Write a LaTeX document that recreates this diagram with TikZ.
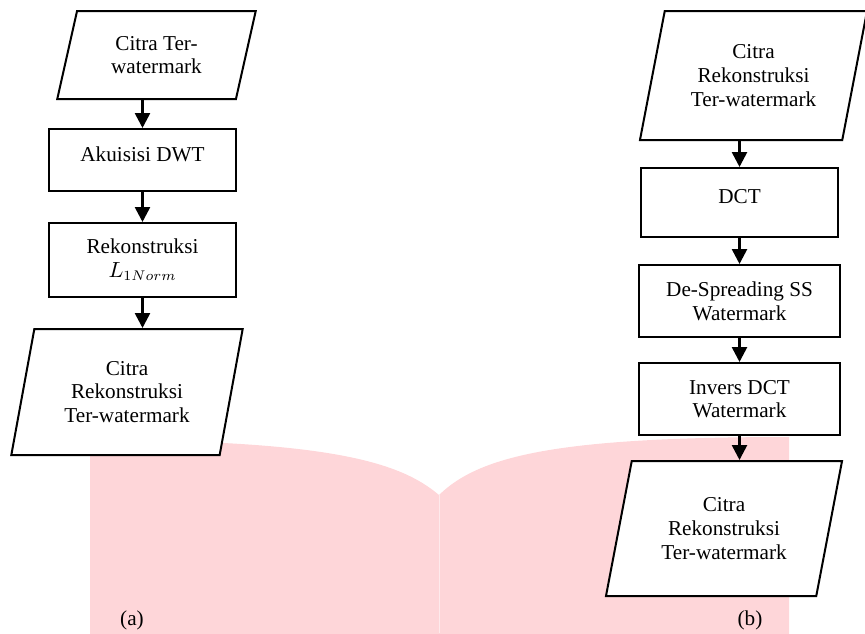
\documentclass[tikz,border=0pt]{standalone}
\usepackage{fontspec}
\setmainfont{Liberation Serif}
\usetikzlibrary{arrows.meta,shapes.geometric}
\definecolor{bookpink}{RGB}{254,214,217}

\begin{document}
\begin{tikzpicture}
        [x=0.5pt,y=-0.5pt,
        txt/.style={font=\fontsize{10.6}{11.8}\selectfont, align=center},
        proc/.style={txt, draw, fill=white, line width=1pt, inner sep=2pt},
        oneline/.style={proc, text depth=6pt},
        io/.style={proc, trapezium, trapezium left angle=75, trapezium right angle=105, trapezium stretches=true},
        flow/.style={-{Triangle[length=7.5pt,width=7.5pt]}, line width=1.3pt}]
        \useasboundingbox (0,0) rectangle (865,633);
        %\draw[help lines,step=50] (0,0) grid (865,633);
        \fill[bookpink] (90,440) .. controls (330,440) and (400,462) .. (439,495)
          .. controls (480,455) and (560,437) .. (789,437) -- (789,640) -- (90,640) -- cycle;
        \draw[white, opacity=.5, line width=.4pt] (439,495) -- (439,633);
        % (a)
        \node[io, minimum width=99.5pt, minimum height=44pt] (ain) at (156.5,55) {Citra Ter-\\watermark};
        \node[oneline, minimum width=93.5pt, minimum height=31pt] (dwt) at (142.5,160) {Akuisisi DWT};
        \node[proc, minimum width=93.5pt, minimum height=37pt] (rek) at (142.5,260) {Rekonstruksi\\$L_{1Norm}$};
        \node[io, trapezium left angle=76.6, trapezium right angle=103.4, minimum width=116pt, minimum height=63pt] (aout) at (127,392) {Citra\\Rekonstruksi\\Ter-watermark};
        \draw[flow] (ain.bottom side -| dwt) -- (dwt);
        \draw[flow] (dwt) -- (rek);
        \draw[flow] (rek) -- (rek |- aout.top side);
        \node[txt] (capa) at (132,620) {(a)};
        % (b)
        \node[io, minimum width=114pt, minimum height=64.5pt] (bin) at (753.5,75.5) {Citra\\Rekonstruksi\\Ter-watermark};
        \node[oneline, minimum width=98.5pt, minimum height=34.5pt] (dct) at (739.5,202.5) {DCT};
        \node[proc, minimum width=100.5pt, minimum height=36pt] (desp) at (739.5,301) {De-Spreading SS\\Watermark};
        \node[proc, minimum width=100.5pt, minimum height=36pt] (inv) at (739.5,399) {Invers DCT\\Watermark};
        \node[io, minimum width=118.5pt, minimum height=67.5pt] (bout) at (724,528.5) {Citra\\Rekonstruksi\\Ter-watermark};
        \draw[flow] (bin.bottom side -| dct) -- (dct);
        \draw[flow] (dct) -- (desp);
        \draw[flow] (desp) -- (inv);
        \draw[flow] (inv) -- (inv |- bout.top side);
        \node[txt] (capb) at (750,620) {(b)};
\end{tikzpicture}
\end{document}
